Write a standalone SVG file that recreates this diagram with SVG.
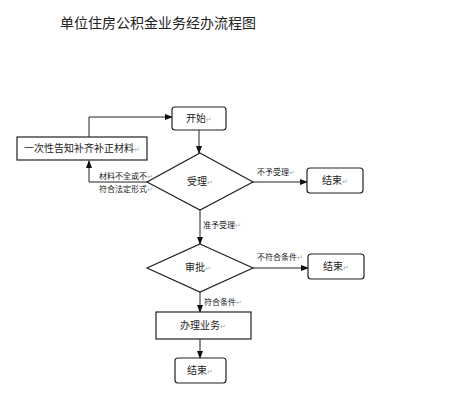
<svg xmlns="http://www.w3.org/2000/svg" width="468" height="400" viewBox="0 0 468 400">
<defs>
<marker id="ah" markerWidth="8" markerHeight="6" refX="7" refY="3" orient="auto" markerUnits="userSpaceOnUse">
<path d="M0,0 L8,3 L0,6 z" fill="#111"/>
</marker>
<style>
.shape{fill:#fff;stroke:#222;stroke-width:1.2}
.con{fill:none;stroke:#222;stroke-width:1;marker-end:url(#ah)}
text{font-family:"Liberation Sans","Noto Sans CJK SC",sans-serif;fill:#222}
.n{font-size:10px;text-anchor:middle}
.l{font-size:8px}
.t{font-size:14px}
.m{fill:#aaa;font-size:7px}
</style>
</defs>
<rect width="468" height="400" fill="#fff"/>
<text class="t" x="60" y="28">单位住房公积金业务经办流程图</text>
<g id="connectors">
<path class="con" d="M199,130 V153"/>
<path class="con" d="M147,182 H89 V161"/>
<path class="con" d="M89,137 V117 H172"/>
<path class="con" d="M253,182 H307"/>
<path class="con" d="M200,210 V244"/>
<path class="con" d="M253,268 H308"/>
<path class="con" d="M200,292 V312"/>
<path class="con" d="M200,339 V358"/>
</g>
<g id="labels">
<text class="l" x="99" y="179">材料不全或不<tspan class="m">↵</tspan></text>
<text class="l" x="99" y="192">符合法定形式<tspan class="m">↵</tspan></text>
<text class="l" x="257" y="175">不予受理<tspan class="m">↵</tspan></text>
<text class="l" x="203" y="228">准予受理<tspan class="m">↵</tspan></text>
<text class="l" x="257" y="260">不符合条件<tspan class="m">↵</tspan></text>
<text class="l" x="204" y="305">符合条件<tspan class="m">↵</tspan></text>
</g>
<g id="start">
<rect class="shape" x="172" y="107" width="54" height="23" rx="3"/>
<text class="n" x="199" y="122">开始<tspan class="m">↵</tspan></text>
</g>
<g id="supplement">
<rect class="shape" x="17" y="137" width="130" height="23"/>
<text class="n" x="82" y="152">一次性告知补齐补正材料<tspan class="m">↵</tspan></text>
</g>
<g id="accept">
<polygon class="shape" points="200,153 253,182 200,210 147,182"/>
<text class="n" x="200" y="185">受理<tspan class="m">↵</tspan></text>
</g>
<g id="end1">
<rect class="shape" x="307" y="168" width="56" height="25" rx="3"/>
<text class="n" x="335" y="184">结束<tspan class="m">↵</tspan></text>
</g>
<g id="approve">
<polygon class="shape" points="200,244 253,268 200,292 147,268"/>
<text class="n" x="198" y="271">审批<tspan class="m">↵</tspan></text>
</g>
<g id="end2">
<rect class="shape" x="308" y="254" width="56" height="25" rx="3"/>
<text class="n" x="336" y="270">结束<tspan class="m">↵</tspan></text>
</g>
<g id="process">
<rect class="shape" x="156" y="312" width="95" height="27"/>
<text class="n" x="203" y="329">办理业务<tspan class="m">↵</tspan></text>
</g>
<g id="end3">
<rect class="shape" x="175" y="358" width="51" height="25" rx="3"/>
<text class="n" x="200" y="374">结束<tspan class="m">↵</tspan></text>
</g>
</svg>
